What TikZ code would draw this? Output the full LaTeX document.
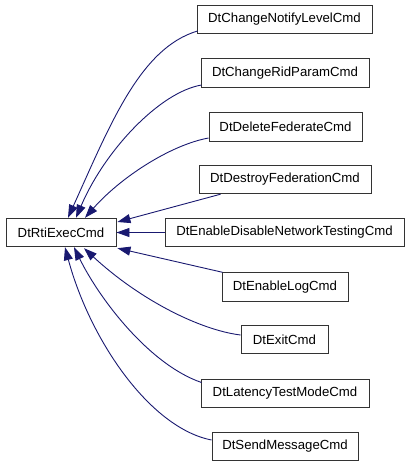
\documentclass[tikz,border=0pt]{standalone}
\usepackage{fontspec}
\setmainfont{Liberation Sans}
\usetikzlibrary{arrows.meta,calc}
\definecolor{mblue}{HTML}{191970}
\begin{document}
\begin{tikzpicture}[x=1pt,y=-1pt,
  cls/.style={draw=black!80, line width=0.9pt, fill=white, minimum height=28.5pt, inner sep=0pt, font=\fontsize{13.2}{15}\selectfont},
  edge/.style={draw=mblue, line width=0.9pt, -{Triangle[length=13pt,width=9pt,fill=mblue]}}]
\useasboundingbox (0,0) rectangle (411,467);
\node[cls, minimum width=110pt] (base) at (61,232.5) {DtRtiExecCmd};
\node[cls, minimum width=175pt] (b1) at (284.5,19.5) {DtChangeNotifyLevelCmd};
\node[cls, minimum width=168pt] (b2) at (285,73) {DtChangeRidParamCmd};
\node[cls, minimum width=153pt] (b3) at (285.5,127) {DtDeleteFederateCmd};
\node[cls, minimum width=172pt] (b4) at (285,179.5) {DtDestroyFederationCmd};
\node[cls, minimum width=239pt] (b5) at (284.5,232.5) {DtEnableDisableNetworkTestingCmd};
\node[cls, minimum width=126pt] (b6) at (285,287) {DtEnableLogCmd};
\node[cls, minimum width=87pt] (b7) at (284.5,339.5) {DtExitCmd};
\node[cls, minimum width=168pt] (b8) at (285,393.5) {DtLatencyTestModeCmd};
\node[cls, minimum width=146pt] (b9) at (285,446.5) {DtSendMessageCmd};

\draw[edge] ($(b1.west)+(1,11.5)$) .. controls (140,48) and (110,125) .. ($(base.north)+(7,0)$);
\draw[edge] ($(b2.west)+(1,12)$) .. controls (160,92) and (105,150) .. ($(base.north)+(15,0)$);
\draw[edge] ($(b3.west)+(0,11)$) .. controls (170,145) and (120,178) .. ($(base.north)+(24,0)$);
\draw[edge] ($(b4.south west)+(22,0)$) -- ($(base.east)+(1,-10.5)$);
\draw[edge] (b5.west) -- (base.east);
\draw[edge] ($(b6.north west)+(1,0)$) -- ($(base.south east)+(1,1)$);
\draw[edge] ($(b7.west)+(0,-4.5)$) .. controls (200,330) and (140,300) .. ($(base.south)+(23,1)$);
\draw[edge] ($(b8.west)+(1,-11)$) .. controls (150,365) and (100,300) .. ($(base.south)+(13,0)$);
\draw[edge] ($(b9.west)+(0,-6.5)$) .. controls (150,428) and (90,340) .. ($(base.south)+(4,0)$);
\end{tikzpicture}
\end{document}
